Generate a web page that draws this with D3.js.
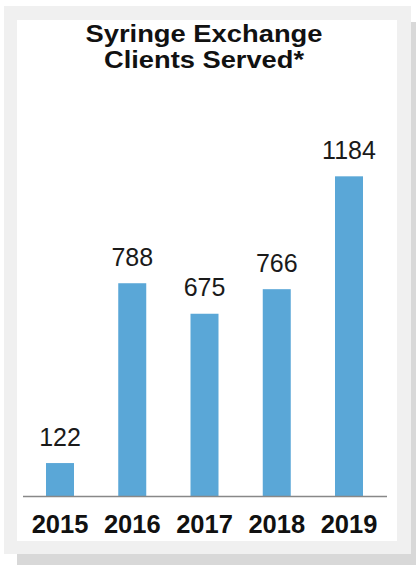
<!DOCTYPE html>
<html><head><meta charset="utf-8">
<script src="https://cdn.jsdelivr.net/npm/d3@7/dist/d3.min.js"></script>
<style>html,body{margin:0;padding:0;background:#fff;}svg{display:block;}</style>
</head><body>
<script>
const years = ["2015", "2016", "2017", "2018", "2019"];
const clients = [122, 788, 675, 766, 1184];
const titleLines = ["Syringe Exchange", "Clients Served*"];

const W = 416, H = 565;
const svg = d3.select("body").append("svg").attr("width", W).attr("height", H);

// frame: shadow, light gray border, white panel
svg.append("rect").attr("x", 17).attr("y", 22).attr("width", 399).attr("height", 543).attr("fill", "#d8d8d8");
svg.append("rect").attr("x", 4).attr("y", 6).attr("width", 407).attr("height", 548).attr("fill", "#f0f0f0");
svg.append("rect").attr("x", 17).attr("y", 20).attr("width", 380).attr("height", 521).attr("fill", "#ffffff");

const x = d3.scaleBand().domain(years).range([24, 385]).paddingInner(0.6125).paddingOuter(0.3045);
const y = d3.scaleLinear().domain([0, 1400]).range([496, 118]);

// title
svg.append("g").selectAll("text").data(titleLines).join("text")
  .attr("x", 204).attr("y", (d, i) => 42 + i * 25.5)
  .attr("text-anchor", "middle")
  .attr("font-family", "Liberation Sans, Arial, sans-serif")
  .attr("font-weight", "bold").attr("font-size", 23.5)
  .attr("textLength", (d, i) => i === 0 ? 237 : 200)
  .attr("lengthAdjust", "spacingAndGlyphs")
  .attr("fill", "#111")
  .text(d => d);

// bars
const data = years.map((yr, i) => ({ yr, v: clients[i] }));
svg.append("g").selectAll("rect").data(data).join("rect")
  .attr("x", d => x(d.yr)).attr("width", x.bandwidth())
  .attr("y", d => y(d.v)).attr("height", d => y(0) - y(d.v))
  .attr("fill", "#5aa7d7");

// value labels
svg.append("g").selectAll("text").data(data).join("text")
  .attr("x", d => x(d.yr) + x.bandwidth() / 2)
  .attr("y", d => y(d.v) - 17.5)
  .attr("text-anchor", "middle")
  .attr("font-family", "Liberation Sans, Arial, sans-serif")
  .attr("font-size", 25).attr("fill", "#1a1a1a")
  .text(d => d.v);

// axis
const axis = svg.append("g").attr("transform", `translate(0,${y(0)})`)
  .call(d3.axisBottom(x).tickSize(0).tickPadding(0));
axis.select(".domain").remove();
axis.append("line").attr("x1", 23).attr("x2", 387).attr("y1", 0.5).attr("y2", 0.5)
  .attr("stroke", "#888").attr("stroke-width", 1.5);
axis.selectAll(".tick text")
  .attr("dy", null).attr("y", 37)
  .attr("font-family", "Liberation Sans, Arial, sans-serif")
  .attr("font-weight", "bold").attr("font-size", 25.5).attr("fill", "#111");
</script>
</body></html>
